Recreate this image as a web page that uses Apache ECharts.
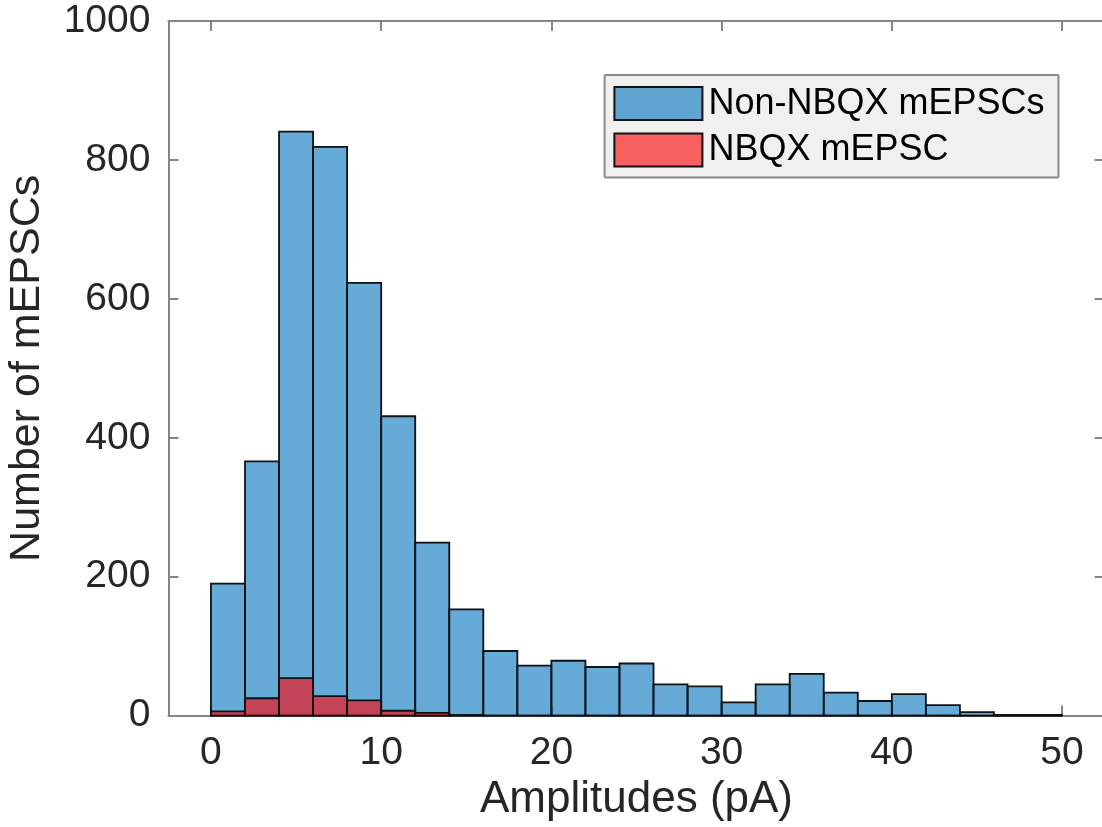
<!DOCTYPE html>
<html>
<head>
<meta charset="utf-8">
<title>mEPSC amplitude histogram</title>
<script src="https://cdn.jsdelivr.net/npm/echarts@6/dist/echarts.min.js"></script>
<style>
  html, body { margin: 0; padding: 0; background: #ffffff; }
  #chart { width: 1102px; height: 827px; }
</style>
</head>
<body>
<div id="chart"></div>
<script>
// Histogram bin edges (pA)
const binEdges = [0, 2, 4, 6, 8, 10, 12, 14, 16, 18, 20, 22, 24, 26, 28, 30, 32, 34, 36, 38, 40, 42, 44, 46, 48, 50];

// Event counts per bin
const nonNbqxCounts = [190, 366, 841, 819, 623, 431, 249, 153, 93, 72, 79, 70, 75, 45, 42, 19, 45, 60, 33, 21, 31, 15, 5, 1, 1];
const nbqxCounts    = [6, 25, 54, 28, 22, 7, 4, 1, 0, 0, 0, 0, 0, 0, 0, 0, 0, 0, 0, 0, 0, 0, 0, 0, 0];

// Axis ticks
const xTicks = [0, 10, 20, 30, 40, 50];
const yTicks = [0, 200, 400, 600, 800, 1000];

const seriesNames = ['Non-NBQX mEPSCs', 'NBQX mEPSC'];

const FONT = '"Liberation Sans", Arial, Helvetica, sans-serif';
const AXIS_GRAY = '#858585';
const TEXT_DARK = '#262626';
const BLUE = 'rgba(0, 114, 189, 0.6)';
const RED = 'rgba(255, 0, 0, 0.6)';

function binData(counts) {
  return counts.map((c, i) => [binEdges[i], binEdges[i + 1], c]);
}

function barRenderer(fill) {
  return function (params, api) {
    const x0 = api.value(0), x1 = api.value(1), v = api.value(2);
    const topLeft = api.coord([x0, v]);
    const bottomRight = api.coord([x1, 0]);
    return {
      type: 'rect',
      shape: {
        x: topLeft[0],
        y: topLeft[1],
        width: bottomRight[0] - topLeft[0],
        height: bottomRight[1] - topLeft[1]
      },
      style: { fill: fill, stroke: '#111111', lineWidth: 1.8 }
    };
  };
}

const chart = echarts.init(document.getElementById('chart'), null, { renderer: 'canvas' });

const axisLine = { show: true, onZero: false, lineStyle: { color: AXIS_GRAY, width: 2 } };
const innerTick = { show: true, inside: true, length: 10, lineStyle: { color: AXIS_GRAY, width: 2 } };
const plainNumber = v => String(v);

chart.setOption({
  animation: false,
  backgroundColor: '#ffffff',
  grid: {
    left: 168.4, top: 21.1, width: 936.2, height: 694.5,
    containLabel: false,
    outerBoundsMode: 'none'
  },
  legend: {
    orient: 'vertical',
    left: 604.6,
    top: 75,
    padding: [10.6, 14, 9.5, 8.8],
    itemWidth: 88,
    itemHeight: 33,
    itemGap: 10.5,
    backgroundColor: '#f0f0f0',
    borderColor: '#8a8a8a',
    borderWidth: 2,
    borderRadius: 1,
    icon: 'rect',
    textStyle: { fontFamily: FONT, fontSize: 36, color: '#000000', lineHeight: 33, padding: [0, 0, 0, 1] },
    data: [
      { name: seriesNames[0], itemStyle: { color: BLUE, borderColor: '#111111', borderWidth: 2 } },
      { name: seriesNames[1], itemStyle: { color: RED, borderColor: '#111111', borderWidth: 2 } }
    ]
  },
  xAxis: [
    {
      type: 'value',
      min: -2.5,
      max: 52.5,
      position: 'bottom',
      name: 'Amplitudes (pA)',
      nameLocation: 'middle',
      nameGap: 62,
      nameTextStyle: { fontFamily: FONT, fontSize: 44, color: TEXT_DARK },
      axisLine: axisLine,
      axisTick: Object.assign({ customValues: xTicks }, innerTick),
      axisLabel: { customValues: xTicks, formatter: plainNumber, margin: 18, fontFamily: FONT, fontSize: 39, color: TEXT_DARK },
      splitLine: { show: false }
    },
    {
      type: 'value',
      min: -2.5,
      max: 52.5,
      position: 'top',
      axisLine: axisLine,
      axisTick: Object.assign({ customValues: xTicks }, innerTick),
      axisLabel: { show: false },
      splitLine: { show: false }
    }
  ],
  yAxis: [
    {
      type: 'value',
      min: 0,
      max: 1000,
      interval: 200,
      position: 'left',
      name: 'Number of mEPSCs',
      nameLocation: 'middle',
      nameGap: 120,
      nameTextStyle: { fontFamily: FONT, fontSize: 43, color: TEXT_DARK },
      axisLine: axisLine,
      axisTick: Object.assign({ customValues: yTicks }, innerTick),
      axisLabel: { customValues: yTicks, formatter: plainNumber, margin: 18, fontFamily: FONT, fontSize: 39, color: TEXT_DARK },
      splitLine: { show: false }
    },
    {
      type: 'value',
      min: 0,
      max: 1000,
      interval: 200,
      position: 'right',
      axisLine: axisLine,
      axisTick: Object.assign({ customValues: yTicks }, innerTick),
      axisLabel: { show: false },
      splitLine: { show: false }
    }
  ],
  series: [
    {
      name: seriesNames[0],
      type: 'custom',
      xAxisIndex: 0,
      yAxisIndex: 0,
      itemStyle: { color: BLUE },
      renderItem: barRenderer(BLUE),
      encode: { x: [0, 1], y: 2 },
      data: binData(nonNbqxCounts),
      z: 2
    },
    {
      name: seriesNames[1],
      type: 'custom',
      xAxisIndex: 0,
      yAxisIndex: 0,
      itemStyle: { color: RED },
      renderItem: barRenderer(RED),
      encode: { x: [0, 1], y: 2 },
      data: binData(nbqxCounts),
      z: 3
    }
  ]
});
</script>
</body>
</html>
